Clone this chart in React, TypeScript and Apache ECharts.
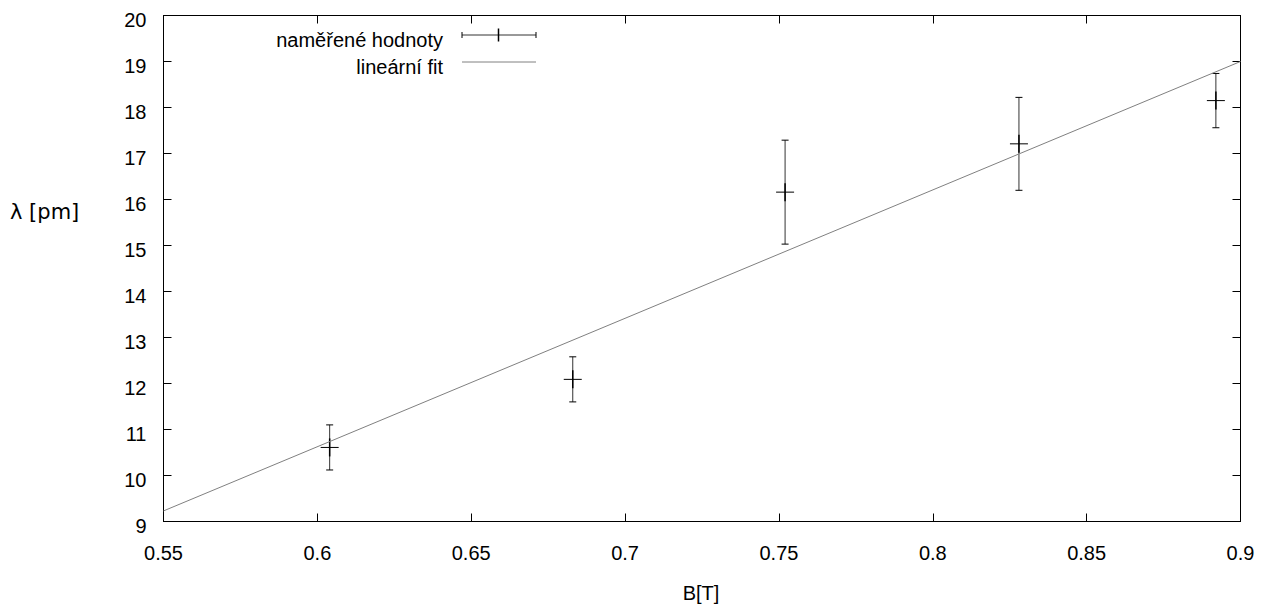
import React, { useEffect, useRef } from "react";
import * as echarts from "echarts";

const xValues = [0.604, 0.683, 0.752, 0.828, 0.892];
const yValues = [10.61, 12.09, 16.16, 17.21, 18.15];
const yErrors = [0.49, 0.49, 1.13, 1.01, 0.59];
const fitX = [0.55, 0.9];
const fitY = [9.23, 19.0];
const legendLabels = ["naměřené hodnoty", "lineární fit"];
const xTitle = "B[T]";
const yTitle = "λ [pm]";

const FONT = "'Liberation Sans', Arial, sans-serif";

export default function App() {
  const ref = useRef<HTMLDivElement>(null);
  useEffect(() => {
    if (!ref.current) return;
    const chart = echarts.init(ref.current, null, { renderer: "svg" });
    const pts = xValues.map((x, i) => [x, yValues[i], yErrors[i]]);
    const fit = fitX.map((x, i) => [x, fitY[i]]);
    const axisCommon = {
      type: "value" as const,
      axisLine: { show: true, lineStyle: { color: "#000", width: 1 } },
      axisTick: { show: true, inside: true, length: 8, lineStyle: { color: "#000" } },
      splitLine: { show: false },
    };
    const labelStyle = { color: "#000", fontSize: 20, fontFamily: FONT };
    const option = {
      animation: false,
      grid: { left: 163.5, top: 15.5, right: 20.5, bottom: 83.5, show: true, borderColor: "#000", borderWidth: 1 },
      xAxis: [
        {
          ...axisCommon,
          min: 0.55,
          max: 0.9,
          interval: 0.05,
          position: "bottom",
          axisLabel: { ...labelStyle, margin: 21, formatter: (v: number) => String(parseFloat(v.toFixed(2))) },
        },
        {
          ...axisCommon,
          min: 0.55,
          max: 0.9,
          interval: 0.05,
          position: "top",
          axisLabel: { show: false },
        },
      ],
      yAxis: [
        {
          ...axisCommon,
          min: 9,
          max: 20,
          interval: 1,
          position: "left",
          axisLabel: { ...labelStyle, margin: 17, verticalAlign: "top", lineHeight: 8 },
        },
        {
          ...axisCommon,
          min: 9,
          max: 20,
          interval: 1,
          position: "right",
          axisLabel: { show: false },
        },
      ],
      series: [
        {
          type: "line",
          data: fit,
          symbol: "none",
          lineStyle: { color: "#808080", width: 1 },
          clip: true,
          silent: true,
        },
        {
          type: "custom",
          data: pts,
          renderItem: (params: any, api: any) => {
            const x = api.value(0);
            const y = api.value(1);
            const e = api.value(2);
            const c = api.coord([x, y]);
            const t = api.coord([x, y + e]);
            const b = api.coord([x, y - e]);
            const cap = 3.5;
            const arm = 9;
            const st = { stroke: "#000", lineWidth: 1 };
            return {
              type: "group",
              children: [
                { type: "line", shape: { x1: c[0], y1: t[1], x2: c[0], y2: b[1] }, style: { ...st, stroke: "#333" } },
                { type: "line", shape: { x1: c[0] - cap, y1: t[1], x2: c[0] + cap, y2: t[1] }, style: st },
                { type: "line", shape: { x1: c[0] - cap, y1: b[1], x2: c[0] + cap, y2: b[1] }, style: st },
                { type: "line", shape: { x1: c[0] - arm, y1: c[1], x2: c[0] + arm, y2: c[1] }, style: st },
                { type: "line", shape: { x1: c[0], y1: c[1] - arm, x2: c[0], y2: c[1] + arm }, style: { ...st, lineWidth: 1.5 } },
              ],
            };
          },
        },
      ],
      graphic: [
        { type: "text", x: 10, y: 212, style: { text: yTitle, fontSize: 21, fontFamily: "'DejaVu Sans', sans-serif", fill: "#000", align: "left", verticalAlign: "middle" } },
        { type: "text", x: 701, y: 593, style: { text: xTitle, fontSize: 20, fontFamily: FONT, fill: "#000", align: "center", verticalAlign: "middle" } },
        { type: "text", x: 443, y: 40, style: { text: legendLabels[0], fontSize: 20, fontFamily: FONT, fill: "#000", align: "right", verticalAlign: "middle" } },
        { type: "text", x: 443, y: 67, style: { text: legendLabels[1], fontSize: 20, fontFamily: FONT, fill: "#000", align: "right", verticalAlign: "middle" } },
        { type: "line", shape: { x1: 462, y1: 35, x2: 536, y2: 35 }, style: { stroke: "#333", lineWidth: 1 } },
        { type: "line", shape: { x1: 462, y1: 32, x2: 462, y2: 38 }, style: { stroke: "#000", lineWidth: 1 } },
        { type: "line", shape: { x1: 536, y1: 32, x2: 536, y2: 38 }, style: { stroke: "#000", lineWidth: 1 } },
        { type: "line", shape: { x1: 498.5, y1: 28.5, x2: 498.5, y2: 41.5 }, style: { stroke: "#000", lineWidth: 1.5 } },
        { type: "line", shape: { x1: 462, y1: 62, x2: 536, y2: 62 }, style: { stroke: "#808080", lineWidth: 1 } },
      ],
    };
    chart.setOption(option as any);
    return () => chart.dispose();
  }, []);
  return (
    <div
      ref={ref}
      style={{ position: "fixed", left: 0, top: 0, width: 1261, height: 605, background: "#fff" }}
    />
  );
}
